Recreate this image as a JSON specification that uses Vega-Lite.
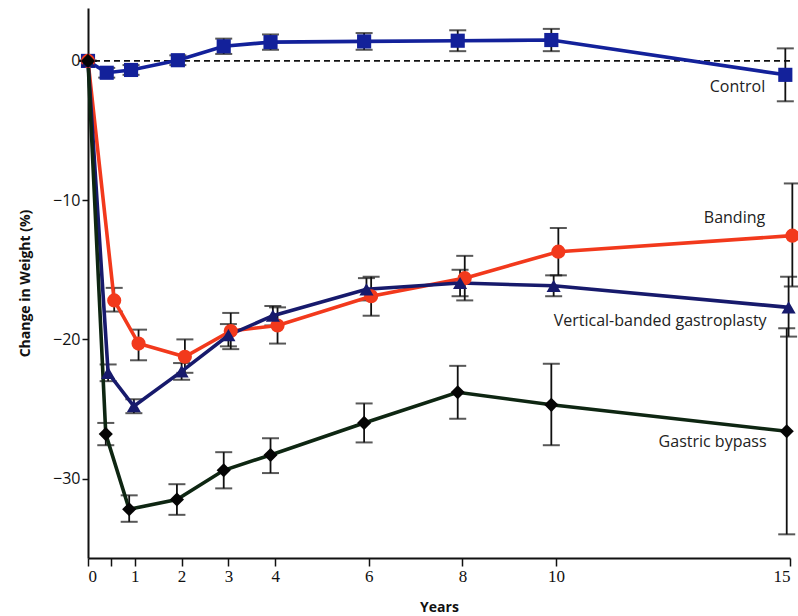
{
  "$schema": "https://vega.github.io/schema/vega-lite/v6.json",
  "autosize": {"type": "none"},
  "padding": {"left": 88, "top": 8, "right": 8, "bottom": 58},
  "width": 702,
  "height": 550,
  "background": "white",
  "config": {"view": {"stroke": null}, "font": "Open Sans"},
  "datasets": {
    "pts": [
      {"group": "Control", "x": 0, "y": 0, "lo": 0, "hi": 0},
      {"group": "Control", "x": 0.4, "y": -0.85, "lo": -1.2, "hi": -0.5},
      {"group": "Control", "x": 0.92, "y": -0.65, "lo": -1.0, "hi": -0.3},
      {"group": "Control", "x": 1.92, "y": 0.05, "lo": -0.3, "hi": 0.4},
      {"group": "Control", "x": 2.9, "y": 1.05, "lo": 0.5, "hi": 1.6},
      {"group": "Control", "x": 3.9, "y": 1.35, "lo": 0.8, "hi": 1.9},
      {"group": "Control", "x": 5.9, "y": 1.4, "lo": 0.8, "hi": 2.0},
      {"group": "Control", "x": 7.9, "y": 1.45, "lo": 0.7, "hi": 2.2},
      {"group": "Control", "x": 9.9, "y": 1.5, "lo": 0.7, "hi": 2.3},
      {"group": "Control", "x": 14.9, "y": -1.0, "lo": -2.9, "hi": 0.9},
      {"group": "Banding", "x": 0, "y": 0, "lo": 0, "hi": 0},
      {"group": "Banding", "x": 0.56, "y": -17.2, "lo": -18.0, "hi": -16.3},
      {"group": "Banding", "x": 1.08, "y": -20.3, "lo": -21.5, "hi": -19.3},
      {"group": "Banding", "x": 2.07, "y": -21.25, "lo": -22.4, "hi": -20.0},
      {"group": "Banding", "x": 3.05, "y": -19.4, "lo": -20.7, "hi": -18.1},
      {"group": "Banding", "x": 4.05, "y": -19.0, "lo": -20.3, "hi": -17.7},
      {"group": "Banding", "x": 6.05, "y": -16.9, "lo": -18.3, "hi": -15.5},
      {"group": "Banding", "x": 8.05, "y": -15.6, "lo": -17.2, "hi": -14.0},
      {"group": "Banding", "x": 10.05, "y": -13.7, "lo": -15.4, "hi": -12.0},
      {"group": "Banding", "x": 15.05, "y": -12.55, "lo": -16.2, "hi": -8.8},
      {"group": "Vertical-banded gastroplasty", "x": 0, "y": 0, "lo": 0, "hi": 0},
      {"group": "Vertical-banded gastroplasty", "x": 0.43, "y": -22.4, "lo": -23.0, "hi": -21.8},
      {"group": "Vertical-banded gastroplasty", "x": 0.98, "y": -24.8, "lo": -25.3, "hi": -24.3},
      {"group": "Vertical-banded gastroplasty", "x": 2.0, "y": -22.3, "lo": -22.9, "hi": -21.7},
      {"group": "Vertical-banded gastroplasty", "x": 3.0, "y": -19.7, "lo": -20.5, "hi": -18.9},
      {"group": "Vertical-banded gastroplasty", "x": 3.95, "y": -18.3, "lo": -19.0, "hi": -17.6},
      {"group": "Vertical-banded gastroplasty", "x": 5.95, "y": -16.4, "lo": -17.2, "hi": -15.6},
      {"group": "Vertical-banded gastroplasty", "x": 7.95, "y": -15.95, "lo": -16.9, "hi": -15.0},
      {"group": "Vertical-banded gastroplasty", "x": 9.95, "y": -16.15, "lo": -16.9, "hi": -15.4},
      {"group": "Vertical-banded gastroplasty", "x": 14.97, "y": -17.7, "lo": -19.8, "hi": -15.5},
      {"group": "Gastric bypass", "x": 0, "y": 0, "lo": 0, "hi": 0},
      {"group": "Gastric bypass", "x": 0.38, "y": -26.8, "lo": -27.6, "hi": -26.0},
      {"group": "Gastric bypass", "x": 0.88, "y": -32.2, "lo": -33.1, "hi": -31.2},
      {"group": "Gastric bypass", "x": 1.9, "y": -31.5, "lo": -32.6, "hi": -30.4},
      {"group": "Gastric bypass", "x": 2.9, "y": -29.4, "lo": -30.7, "hi": -28.1},
      {"group": "Gastric bypass", "x": 3.9, "y": -28.3, "lo": -29.6, "hi": -27.1},
      {"group": "Gastric bypass", "x": 5.9, "y": -26.0, "lo": -27.4, "hi": -24.6},
      {"group": "Gastric bypass", "x": 7.9, "y": -23.8, "lo": -25.7, "hi": -21.9},
      {"group": "Gastric bypass", "x": 9.9, "y": -24.7, "lo": -27.6, "hi": -21.75},
      {"group": "Gastric bypass", "x": 14.93, "y": -26.6, "lo": -34.0, "hi": -19.2}
    ],
    "labels": [
      {"label": "Control", "x": 14.47, "y": -1.85},
      {"label": "Banding", "x": 14.47, "y": -11.3},
      {"label": "Vertical-banded gastroplasty", "x": 14.5, "y": -18.7},
      {"label": "Gastric bypass", "x": 14.5, "y": -27.4}
    ]
  },
  "layer": [
    {
      "data": {"values": [{"y": 0}]},
      "mark": {"type": "rule", "strokeDash": [6, 4], "strokeWidth": 1.6, "color": "#111"},
      "encoding": {"y": {"field": "y", "type": "quantitative", "scale": {"domain": [-35.7, 3.8]}}}
    },
    {
      "data": {"name": "pts"},
      "mark": {"type": "rule", "color": "#111", "strokeWidth": 1.8},
      "encoding": {
        "x": {"field": "x", "type": "quantitative"},
        "y": {"field": "lo", "type": "quantitative"},
        "y2": {"field": "hi"}
      }
    },
    {
      "data": {"name": "pts"},
      "mark": {"type": "tick", "orient": "horizontal", "color": "#111", "size": 17, "thickness": 2},
      "encoding": {
        "x": {"field": "x", "type": "quantitative"},
        "y": {"field": "lo", "type": "quantitative"}
      }
    },
    {
      "data": {"name": "pts"},
      "mark": {"type": "tick", "orient": "horizontal", "color": "#111", "size": 17, "thickness": 2},
      "encoding": {
        "x": {"field": "x", "type": "quantitative"},
        "y": {"field": "hi", "type": "quantitative"}
      }
    },
    {
      "data": {"name": "pts"},
      "mark": {"type": "line", "strokeWidth": 3.6},
      "encoding": {
        "x": {"field": "x", "type": "quantitative"},
        "y": {"field": "y", "type": "quantitative"},
        "detail": {"field": "group"},
        "order": {"field": "x"},
        "color": {
          "field": "group", "type": "nominal", "legend": null,
          "scale": {
            "domain": ["Control", "Banding", "Vertical-banded gastroplasty", "Gastric bypass"],
            "range": ["#13219a", "#f2391c", "#171a6c", "#0e2612"]
          }
        }
      }
    },
    {
      "data": {"name": "pts"},
      "mark": {"type": "point", "filled": true, "opacity": 1, "size": 200},
      "encoding": {
        "x": {"field": "x", "type": "quantitative"},
        "y": {"field": "y", "type": "quantitative"},
        "shape": {
          "field": "group", "type": "nominal", "legend": null,
          "scale": {
            "domain": ["Control", "Banding", "Vertical-banded gastroplasty", "Gastric bypass"],
            "range": ["square", "circle", "triangle-up", "diamond"]
          }
        },
        "color": {
          "field": "group", "type": "nominal", "legend": null,
          "scale": {
            "domain": ["Control", "Banding", "Vertical-banded gastroplasty", "Gastric bypass"],
            "range": ["#13219a", "#f2391c", "#171a6c", "#050505"]
          }
        }
      }
    },
    {
      "data": {"name": "labels"},
      "mark": {"type": "text", "align": "right", "baseline": "middle", "fontSize": 16, "font": "Open Sans", "color": "#222"},
      "encoding": {
        "x": {"field": "x", "type": "quantitative"},
        "y": {"field": "y", "type": "quantitative"},
        "text": {"field": "label"}
      }
    }
  ],
  "resolve": {"scale": {"color": "independent"}},
  "encoding": {
    "x": {
      "type": "quantitative",
      "scale": {"domain": [0, 15], "nice": false, "zero": false},
      "axis": {
        "title": "Years", "titleFontSize": 14, "titleFontWeight": "bold", "titlePadding": 16,
        "titleFont": "Open Sans", "titleColor": "#111",
        "values": [0, 0.5, 1, 2, 3, 4, 6, 8, 10, 15],
        "labelExpr": "datum.value == 0.5 ? '' : datum.label",
        "labelFont": "Liberation Sans Narrow", "labelFontSize": 17, "labelColor": "#111",
        "grid": false, "domainColor": "#111", "domainWidth": 2, "tickColor": "#111", "tickWidth": 1.5, "tickSize": 8
      }
    },
    "y": {
      "type": "quantitative",
      "scale": {"domain": [-35.7, 3.8], "nice": false, "zero": false},
      "axis": {
        "title": "Change in Weight (%)", "titleFontSize": 14, "titleFontWeight": "bold",
        "titleFont": "Open Sans", "titleColor": "#111", "titlePadding": 20,
        "values": [0, -10, -20, -30], "labelFontSize": 16, "labelColor": "#111", "labelFont": "Open Sans",
        "grid": false, "domainColor": "#111", "domainWidth": 2, "tickColor": "#111", "tickWidth": 1.5, "tickSize": 6
      }
    }
  }
}
